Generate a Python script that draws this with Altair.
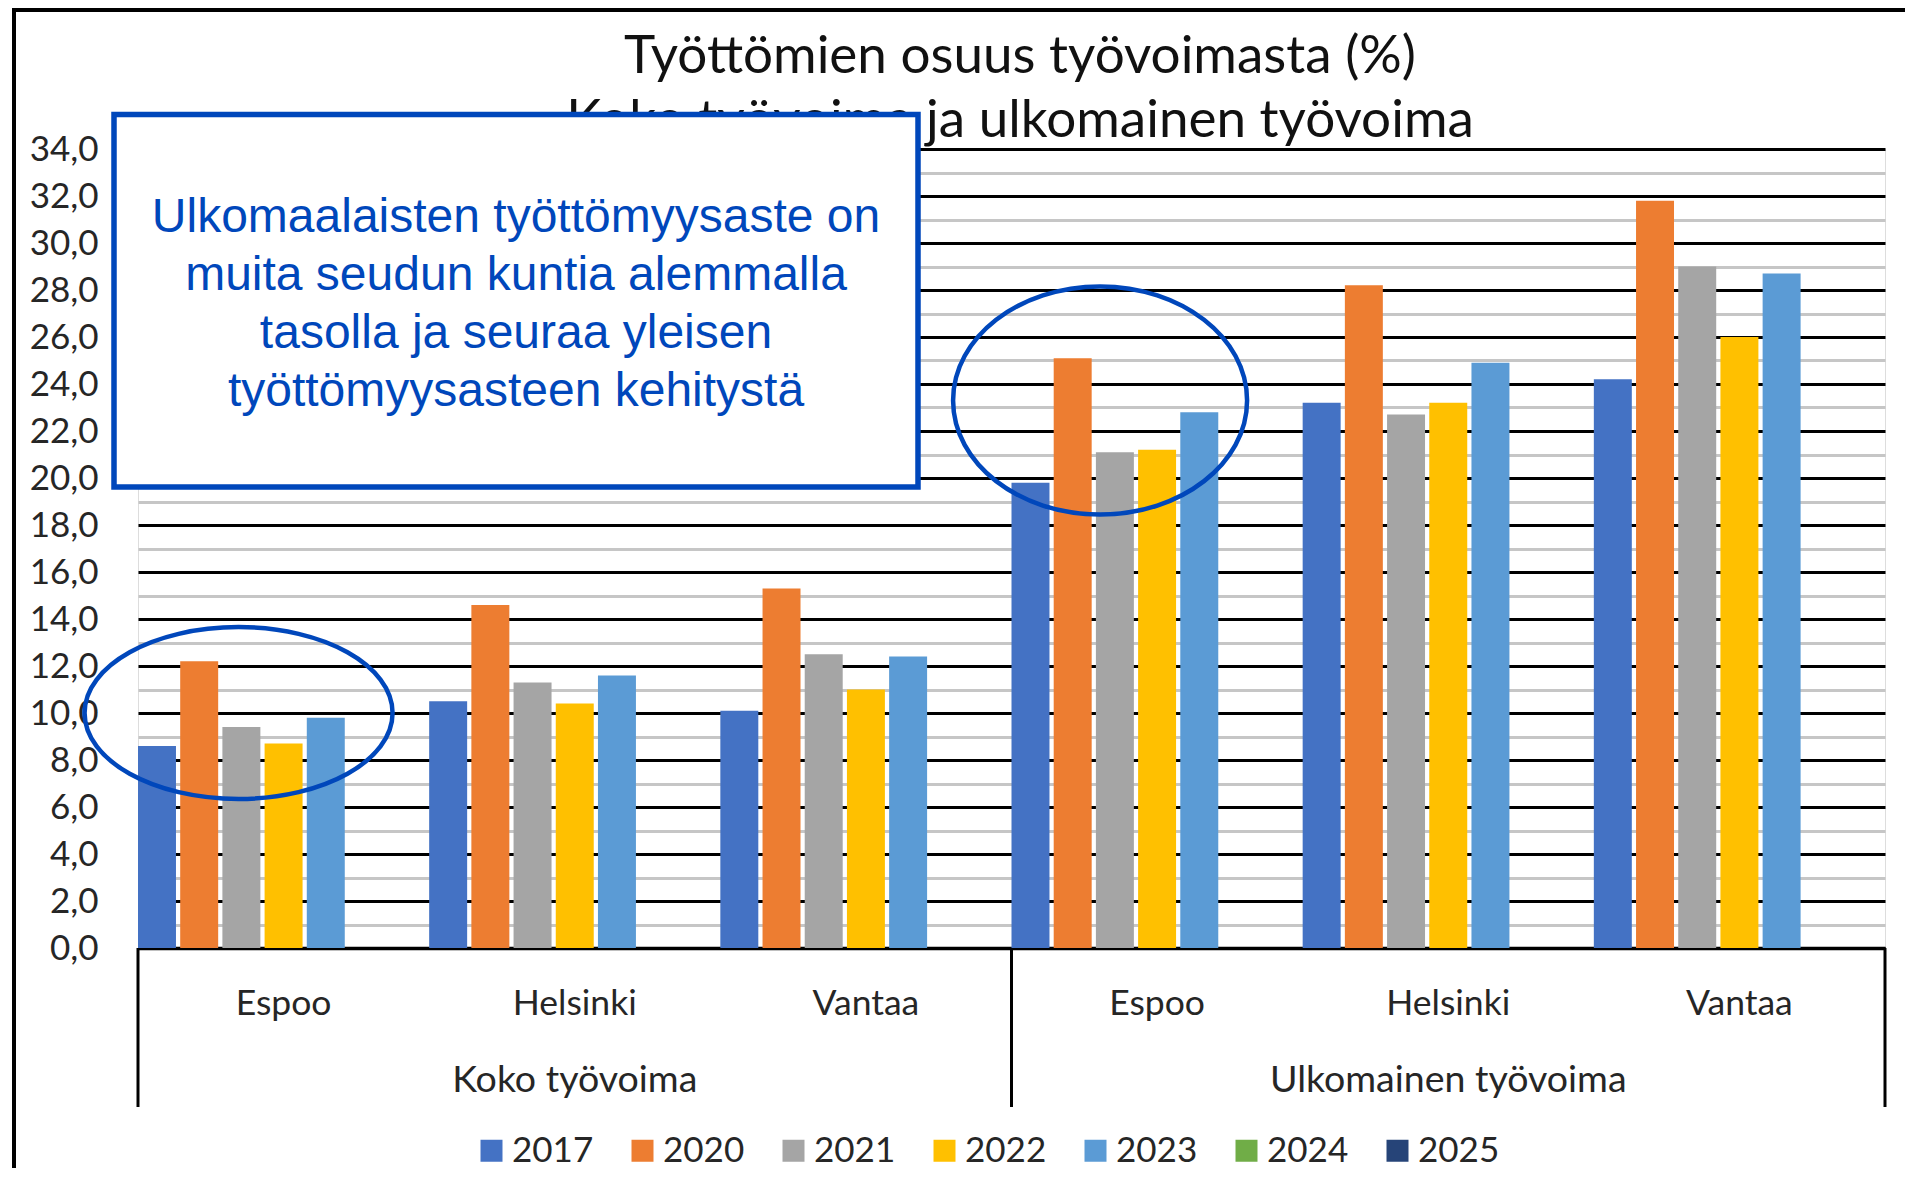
import altair as alt
import pandas as pd

# ---------------- data ----------------
groups = ["Koko työvoima", "Koko työvoima", "Koko työvoima",
          "Ulkomainen työvoima", "Ulkomainen työvoima", "Ulkomainen työvoima"]
cities = ["Espoo", "Helsinki", "Vantaa", "Espoo", "Helsinki", "Vantaa"]
years_all = ["2017", "2020", "2021", "2022", "2023", "2024", "2025"]
colors_all = ["#4472C4", "#ED7D31", "#A5A5A5", "#FFC000", "#5B9BD5", "#70AD47", "#264478"]

v2017 = [8.6, 10.5, 10.1, 19.8, 23.2, 24.2]
v2020 = [12.2, 14.6, 15.3, 25.1, 28.2, 31.8]
v2021 = [9.4, 11.3, 12.5, 21.1, 22.7, 29.0]
v2022 = [8.7, 10.4, 11.0, 21.2, 23.2, 26.0]
v2023 = [9.8, 11.6, 12.4, 22.8, 24.9, 28.7]
series = {"2017": v2017, "2020": v2020, "2021": v2021, "2022": v2022, "2023": v2023}

y_ticks = list(range(0, 35))
title_lines = ["Työttömien osuus työvoimasta (%)", "Koko työvoima ja ulkomainen työvoima"]
note_lines = ["Ulkomaalaisten työttömyysaste on", "muita seudun kuntia alemmalla",
              "tasolla ja seuraa yleisen", "työttömyysasteen kehitystä"]
group_names = ["Koko työvoima", "Ulkomainen työvoima"]
ellipse_keys = ["Koko työvoima|Espoo", "Ulkomainen työvoima|Espoo"]
ellipse_vals = [10.0, 23.3]

keys = [f"{g}|{c}" for g, c in zip(groups, cities)]
rows = []
for yr, vals in series.items():
    for k, g, c, v in zip(keys, groups, cities, vals):
        rows.append({"key": k, "group": g, "city": c, "year": yr, "value": v})
df = pd.DataFrame(rows)
cat_df = pd.DataFrame({"key": keys, "city": cities})
grp_df = pd.DataFrame({"key": [keys[1], keys[4]], "group": group_names})

# ---------------- layout ----------------
W, H = 1747, 799
BLUE = "#0047BB"
FONT = "Lato"
TXT = "#262626"

xscale = alt.Scale(domain=keys, paddingInner=0, paddingOuter=0)
yscale = alt.Scale(domain=[0, 34], nice=False)
xaxis = alt.Axis(labels=False, ticks=False, title=None, grid=False,
                 domain=True, domainColor="#000000", domainWidth=3.5)
yaxis = alt.Axis(values=y_ticks, title=None, domain=False, ticks=False,
                 labelExpr="datum.value % 2 === 0 ? replace(format(datum.value, '.1f'), '.', ',') : ''",
                 labelOverlap=False, labelPadding=40, labelFontSize=35, labelFont=FONT,
                 labelColor=TXT, grid=True, gridWidth=3,
                 gridColor={"condition": {"test": "datum.value % 2 === 0", "value": "#000000"},
                            "value": "#c6c6c6"})


def xk():
    return alt.X("key:N", sort=keys, scale=xscale, axis=xaxis)


bars = alt.Chart(df).mark_bar().encode(
    x=xk(),
    xOffset=alt.XOffset("year:N", scale=alt.Scale(domain=years_all, paddingInner=0.1, paddingOuter=0)),
    y=alt.Y("value:Q", stack=False, scale=yscale, axis=yaxis),
    color=alt.Color("year:N", scale=alt.Scale(domain=years_all, range=colors_all),
                    legend=alt.Legend(orient="none", legendX=336, legendY=984, direction="horizontal",
                                      columns=7, title=None, symbolType="square", symbolSize=484,
                                      symbolStrokeWidth=0, labelFontSize=35, labelFont=FONT,
                                      labelColor=TXT, columnPadding=31, labelOffset=3, padding=0)),
)

one = alt.Data(values=[{"a": 1}])

sep_left = alt.Chart(one).mark_rule(color="#000000", strokeWidth=3).encode(
    x=alt.value(0), y=alt.value(H), y2=alt.value(H + 159))
sep_mid = alt.Chart(one).mark_rule(color="#000000", strokeWidth=3).encode(
    x=alt.value(W / 2), y=alt.value(H), y2=alt.value(H + 159))
sep_right = alt.Chart(one).mark_rule(color="#000000", strokeWidth=3).encode(
    x=alt.value(W), y=alt.value(H), y2=alt.value(H + 159))

city_text = alt.Chart(cat_df).mark_text(font=FONT, fontSize=35.5, color=TXT, baseline="alphabetic").encode(
    x=xk(), y=alt.value(866), text="city:N")

group_text = alt.Chart(grp_df).mark_text(font=FONT, fontSize=37.5, color=TXT, baseline="alphabetic").encode(
    x=xk(), y=alt.value(943), text="group:N")

ell1 = alt.Chart(pd.DataFrame({"key": [ellipse_keys[0]], "v": [ellipse_vals[0]]})).mark_point(
    shape="M -1 0 A 1 0.558 0 1 1 1 0 A 1 0.558 0 1 1 -1 0 Z", size=308 * 308, filled=False,
    stroke=BLUE, strokeWidth=4.5, opacity=1, xOffset=-45).encode(
    x=xk(), y=alt.Y("v:Q", scale=yscale, axis=yaxis))

ell2 = alt.Chart(pd.DataFrame({"key": [ellipse_keys[1]], "v": [ellipse_vals[1]]})).mark_point(
    shape="M -1 0 A 1 0.776 0 1 1 1 0 A 1 0.776 0 1 1 -1 0 Z", size=294 * 294, filled=False,
    stroke=BLUE, strokeWidth=4.5, opacity=1, xOffset=-57).encode(
    x=xk(), y=alt.Y("v:Q", scale=yscale, axis=yaxis))

title = alt.Chart(one).mark_text(font=FONT, fontSize=53, color="#111111", baseline="alphabetic",
                                 align="center", lineHeight=64).encode(
    x=alt.value(882), y=alt.value(-76), text=alt.value(title_lines))

box = alt.Chart(one).mark_rect(fill="#ffffff", stroke=BLUE, strokeWidth=5.5).encode(
    x=alt.value(-24), x2=alt.value(780), y=alt.value(-34.5), y2=alt.value(338))

note = alt.Chart(one).mark_text(font="Liberation Sans", fontSize=48, color=BLUE, baseline="alphabetic",
                                align="center", lineHeight=58).encode(
    x=alt.value(378), y=alt.value(83), text=alt.value(note_lines))

border_top = alt.Chart(one).mark_rule(color="#000000", strokeWidth=4).encode(
    x=alt.value(-126), x2=alt.value(W + 20), y=alt.value(-139))
border_left = alt.Chart(one).mark_rule(color="#000000", strokeWidth=4).encode(
    x=alt.value(-124), y=alt.value(-141), y2=alt.value(H + 230))

chart = alt.layer(
    bars, sep_left, sep_mid, sep_right, city_text, group_text, ell1, ell2,
    title, box, note, border_top, border_left
).properties(
    width=W, height=H,
    autosize=alt.AutoSizeParams(type="none"),
    padding={"left": 130, "top": 141, "right": 20, "bottom": 220},
).configure_view(stroke="transparent").configure(font=FONT)

chart.save("out.html", embed_options={"renderer": "svg", "actions": False})
